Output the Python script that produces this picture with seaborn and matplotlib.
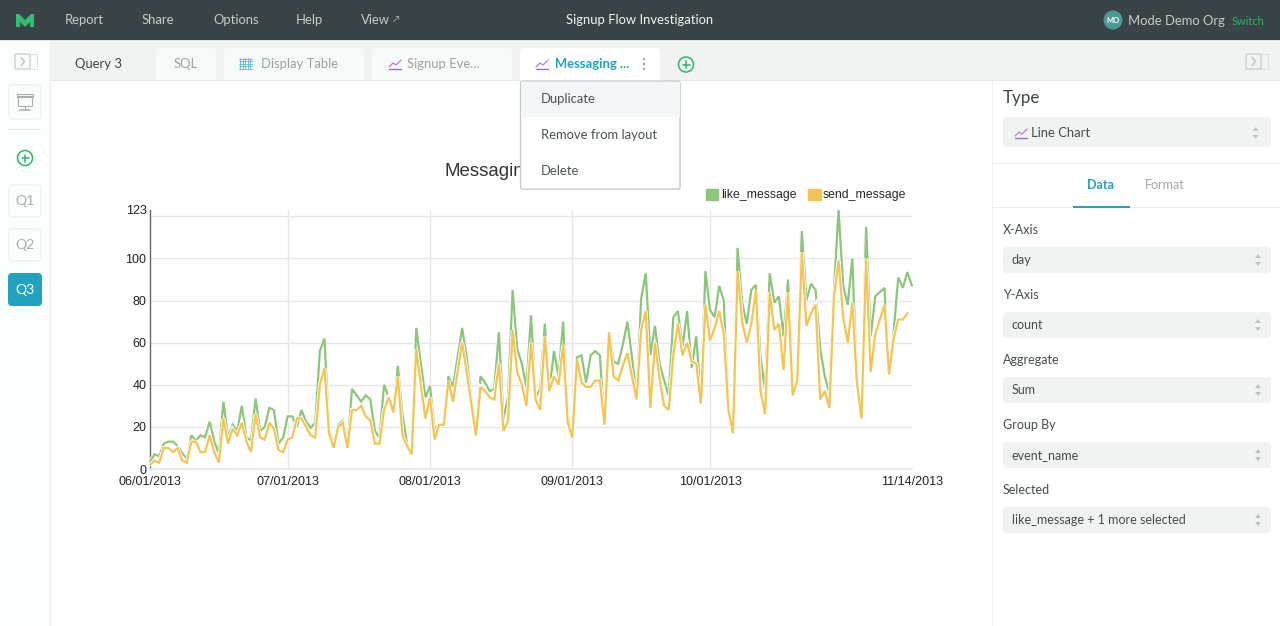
import matplotlib
matplotlib.use("Agg")
import matplotlib.pyplot as plt
import matplotlib.dates as mdates
import matplotlib.patheffects as pe
from matplotlib.patches import FancyBboxPatch, Rectangle, Circle, Polygon, Patch
import pandas as pd
import seaborn as sns

like_message = [3.5,7,6,12,13,13,11,7.5,5,16,13.5,16,15,22.5,13,7.5,32,15,21,18,30,15,13.5,33.5,18,20,29,28,12,15,
25,25,20,28,22.5,19.5,22,56,62,18.5,12,21,23,10,38,35,32,35,33,18,15,40,34,27,49,26,12,7,67,50,34,
39.5,19,21,21.5,44,39,53,67,53,33,16,44,41,37,38,65,24,34,85,57,50,39,73,34,38,69,37,56,44,70,25,
15,53,54,41,54,56,54,21,65,51,50,59,70,53,34,81,93,54,68,50,42,35,72,75,58,75,48,63,33,
94,75.5,72,87,80,28,17,105,79,69,85,87.5,53,37.5,93,79,82,63,90,35,42,113,80,88,85,57,44,36,85,123,87,78,100,41,24,115,63,82,84,86,45,65,91,86,93.5,87]
send_message = [2,4,3,10,10,8,10,4,3,13,13,8,8,16,8,3,24,12,19,16,22,13,8,26,15,14,22,19,9,8,
14,15,24,24,20,16,15,40,48,17,10,20,22,10,28,28,30,25,23,12,12,28,34,27,44,16,11,7,57,40,24,
34,14,21,21,42,32,46,60,46,31,16,39,37,34,33,50,18,23,66,46,40,30,60,33,28,63,37,44,40,59,22,
15,52,41,39,39,42,42,21,65,44,42,49,55,44,33,66,75,29,60,43,30,28,54,69,54,60,51,50,31,
78,61,67,75,64,28,17,94,70,60,69,85,37,26,84,66,69,47,84,35,42,103,68,74,78,33,37,29,82,99,72,60,79,41,24,100,46,64,71,78,45,62,71,71,74,None]
series_names = ["like_message", "send_message"]
series_colors = ["#8cc57c", "#f3c552"]
y_ticks = [0, 20, 40, 60, 80, 100, 123]
grid_values = [20, 40, 60, 80, 100, 120]
x_ticks = ["2013-06-01", "2013-07-01", "2013-08-01", "2013-09-01", "2013-10-01", "2013-11-14"]
grid_dates = ["2013-07-01", "2013-08-01", "2013-09-01", "2013-10-01"]
title_text = "Messagin"

W, H = 1280, 626
sns.set_theme(style="white")
plt.rcParams["font.family"] = ["Liberation Sans", "DejaVu Sans"]
UI = ["Lato", "DejaVu Sans"]

fig = plt.figure(figsize=(W / 100, H / 100), dpi=100, facecolor="white")
ax = fig.add_axes([150 / W, 1 - 469 / H, (912 - 150) / W, (469 - 210) / H], zorder=1)

days = pd.date_range("2013-06-01", periods=len(like_message))
df = pd.DataFrame({"day": list(days) * 2,
                   "count": like_message + send_message,
                   "event": [series_names[0]] * len(days) + [series_names[1]] * len(days)}).dropna()
sns.lineplot(data=df, x="day", y="count", hue="event", hue_order=series_names,
             palette=series_colors, linewidth=1.6, ax=ax, legend=False, clip_on=False)
for line in ax.get_lines():
    line.set_path_effects([pe.Stroke(linewidth=2.8, foreground="white"), pe.Normal()])
    line.set_solid_joinstyle("miter")
    line.set_zorder(3)

ax.set_xlim(pd.Timestamp(x_ticks[0]), pd.Timestamp(x_ticks[-1]))
ax.set_ylim(0, 123)
ax.set_xlabel("")
ax.set_ylabel("")
ax.set_xticks([pd.Timestamp(d) for d in x_ticks])
ax.xaxis.set_major_formatter(mdates.DateFormatter("%m/%d/%Y"))
ax.set_yticks(y_ticks)
ax.tick_params(axis="both", length=0, labelsize=9, colors="#222222")
ax.tick_params(axis="x", pad=5)
ax.tick_params(axis="y", pad=2.5)
for v in grid_values:
    ax.axhline(v, color="#e6e6e6", lw=1, zorder=1)
for d in grid_dates:
    ax.axvline(pd.Timestamp(d), color="#e6e6e6", lw=1, zorder=1)
for s in ["top", "right"]:
    ax.spines[s].set_visible(False)
ax.spines["bottom"].set_color("#e6e6e6")
ax.spines["left"].set_color("#666666")
ax.spines["left"].set_linewidth(1)
ax.patch.set_alpha(0)
ax.legend(handles=[Patch(color=c, label=n) for c, n in zip(series_colors, series_names)],
          loc="center left", bbox_to_anchor=((706 - 150) / 762, (469 - 195) / 259), ncol=2, frameon=False,
          fontsize=8.8, handlelength=1.0, handleheight=1.0, handletextpad=0.2, columnspacing=1.0, borderpad=0,
          borderaxespad=0)
ax.text((444 - 150) / 762, (469 - 171.5) / 259, title_text, transform=ax.transAxes, fontsize=13.4,
        color="#333333", ha="left", va="center")

ui = fig.add_axes([0, 0, 1, 1], zorder=2)
ui.set_xlim(0, W)
ui.set_ylim(H, 0)
ui.axis("off")
ui.patch.set_alpha(0)


def rect(x0, y0, x1, y1, fc, ec="none", lw=0, z=1):
    ui.add_patch(Rectangle((x0, y0), x1 - x0, y1 - y0, fc=fc, ec=ec, lw=lw, zorder=z))


def rbox(x0, y0, x1, y1, fc, ec="none", lw=0, r=4, z=2):
    ui.add_patch(FancyBboxPatch((x0 + r, y0 + r), x1 - x0 - 2 * r, y1 - y0 - 2 * r,
                                boxstyle=f"round,pad={r},rounding_size={r}", fc=fc, ec=ec, lw=lw, zorder=z))


def txt(x, y, s, px=13, color="#444444", ha="left", weight="normal", z=5):
    ui.text(x, y, s, fontsize=px * 0.72, color=color, ha=ha, va="center", family=UI, weight=weight, zorder=z)


def line_icon(x, y):
    ui.plot([x, x + 4, x + 7, x + 12], [y + 4, y, y + 2, y - 3], color="#b084d0", lw=0.9, zorder=5)
    ui.plot([x, x + 12], [y + 6, y + 6], color="#a36bc9", lw=1.0, zorder=5)


def updown(x, y, c="#bfc5c5"):
    ui.add_patch(Polygon([(x - 3, y - 2), (x + 3, y - 2), (x, y - 6)], fc=c, ec="none", zorder=5))
    ui.add_patch(Polygon([(x - 3, y + 2), (x + 3, y + 2), (x, y + 6)], fc=c, ec="none", zorder=5))


def plus(x, y, r=7.5):
    ui.add_patch(Circle((x, y), r, fc="none", ec="#2fb36b", lw=1.1, zorder=5))
    ui.plot([x - 3.5, x + 3.5], [y, y], color="#2fb36b", lw=1.1, zorder=5)
    ui.plot([x, x], [y - 3.5, y + 3.5], color="#2fb36b", lw=1.1, zorder=5)


def toggle(x, y):
    rbox(x, y, x + 15, y + 15, "none", "#c6cccc", 0.9, r=1.5, z=5)
    rect(x + 15, y, x + 22, y + 15, "none", "#d5d9d9", 0.5, z=5)
    ui.plot([x + 6, x + 9.5, x + 6], [y + 3.5, y + 7.5, y + 11.5], color="#c0c6c6", lw=1.1, zorder=5)


# header
rect(0, 0, W, 40, "#3a4446")
rect(0, 40, W, 41, "#dfe3e3")
ui.add_patch(Polygon([(16, 14), (19, 14), (25, 20), (31, 14), (34, 14), (34, 27), (30, 27), (30, 22),
                      (25, 27), (20, 22), (20, 27), (16, 27)], fc="#2fbf71", ec="none", zorder=5))
for x, s in zip([65, 142, 213, 296, 361], ["Report", "Share", "Options", "Help", "View"]):
    txt(x, 20, s, 13, "#c6cbcb")
txt(393, 20, "↗", 9, "#aab0b0")
txt(640, 20, "Signup Flow Investigation", 13, "#f2f4f4", ha="center")
ui.add_patch(Circle((1113, 20), 9.5, fc="#4a9a96", ec="none", zorder=4))
txt(1113, 20.5, "MO", 7.5, "white", ha="center", weight="bold")
txt(1128, 21, "Mode Demo Org", 13, "#c6cbcb")
txt(1232, 21.5, "Switch", 11, "#2fb36b")

# left rail and tab bar
rect(0, 41, 50, H, "#fcfdfd")
rect(49.5, 41, 50.5, H, "#eceeee")
rect(50, 41, W, 80, "#f1f3f3")
rect(50, 79.5, W, 80.5, "#e6e9e9")
toggle(15, 54)
rbox(9, 85, 41, 119, "#fcfdfd", "#eceeee", 0.8)
rect(18, 96, 32, 106, "none", "#a9afaf", 0.8, z=5)
rect(17, 94, 33, 97, "none", "#a9afaf", 0.8, z=5)
ui.plot([25, 25], [106, 110], color="#a9afaf", lw=0.8, zorder=5)
ui.plot([20, 30], [110, 110], color="#a9afaf", lw=1.2, zorder=5)
rect(9, 129, 41, 130, "#e6e9e9")
plus(25, 158)
for y0, s in zip([185, 229], ["Q1", "Q2"]):
    rbox(9, y0, 41, y0 + 32, "#fcfdfd", "#eceeee", 0.8)
    txt(25, y0 + 16, s, 14, "#a8aeae", ha="center")
rbox(8, 273, 42, 306, "#21a3bf")
txt(25, 289.5, "Q3", 14, "white", ha="center")

# tabs
txt(75, 64, "Query 3", 13, "#3d4545")
for x0, x1, fc in [(156, 216, "#f8f9f9"), (224, 364, "#f8f9f9"), (372, 512, "#f8f9f9"), (520, 660, "white")]:
    rbox(x0, 48, x1, 84, fc, r=4, z=2)
rect(50, 79.5, 520, 80.5, "#e6e9e9", z=3)
rect(660, 79.5, W, 80.5, "#e6e9e9", z=3)
rect(150, 80.5, 660, 90, "white", z=3)
txt(186, 64, "SQL", 13, "#9aa2a2", ha="center")
for i in range(5):
    ui.plot([240 + i * 2.5] * 2, [58, 69], color="#3fb0c8", lw=0.5, zorder=5)
for i in range(5):
    ui.plot([239, 252], [59 + i * 2.4] * 2, color="#3fb0c8", lw=0.5, zorder=5)
txt(261, 64, "Display Table", 13, "#9aa2a2")
line_icon(389, 63)
txt(407, 64, "Signup Eve...", 13, "#9aa2a2")
line_icon(536, 63)
txt(555, 64, "Messaging ...", 13, "#21a3bf", weight="bold")
for y in (59, 64, 69):
    ui.add_patch(Circle((644, y), 1.3, fc="#a9afaf", ec="none", zorder=5))
plus(686, 64.5)
toggle(1246, 54)

# dropdown menu
rect(521, 82, 681, 190, "#eceeee", z=6)
rbox(520.5, 81, 680, 189, "white", "#c3c8c8", 0.9, r=2, z=7)
rect(521, 82, 679.5, 117, "#f4f7f7", z=8)
for y, s in zip([99, 135, 171], ["Duplicate", "Remove from layout", "Delete"]):
    txt(541, y, s, 13, "#4a5252", z=9)

# right panel
rect(992, 80.5, W, H, "white")
rect(992, 80.5, 993, H, "#eeeeee", z=2)
txt(1003, 98, "Type", 17, "#3d4545")
rbox(1003, 117, 1271, 147, "#f1f3f3")
line_icon(1015, 132)
txt(1031, 133, "Line Chart", 13, "#444c4c")
updown(1255.5, 133)
rect(993, 163, W, 164, "#eeeeee", z=2)
txt(1101, 185, "Data", 12.5, "#21a3bf", ha="center", weight="bold")
txt(1165, 185, "Format", 12.5, "#a0a8a8", ha="center")
rect(993, 207, W, 208, "#eeeeee", z=2)
rect(1073, 206, 1130, 208, "#21a3bf", z=3)
fields = [("X-Axis", "day", 229), ("Y-Axis", "count", 294), ("Aggregate", "Sum", 359),
          ("Group By", "event_name", 424), ("Selected", "like_message + 1 more selected", 489)]
for lab, val, y in fields:
    txt(1003, y + 1, lab, 12.5, "#444c4c")
    rbox(1003, y + 18, 1271, y + 44, "#f1f3f3")
    txt(1012, y + 31, val, 12.5, "#444c4c")
    updown(1258, y + 31)

fig.savefig("out.png", dpi=100, facecolor="white")
